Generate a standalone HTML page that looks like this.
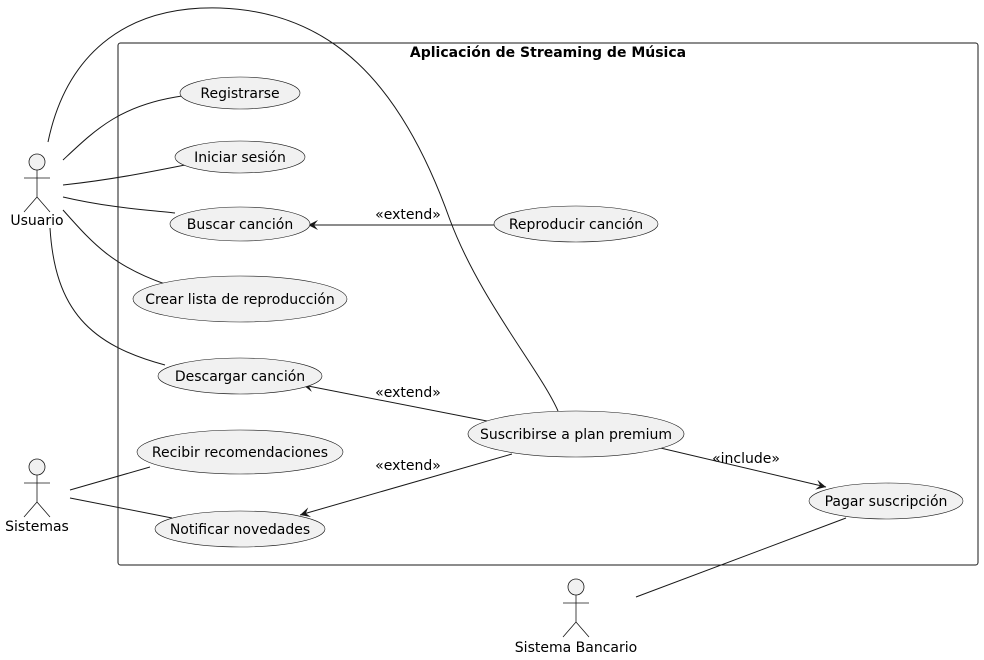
<!DOCTYPE html>
<html><head><meta charset="utf-8"><style>
html,body{margin:0;padding:0;background:#fff;}
svg{display:block;}
text{font-family:"DejaVu Sans","Liberation Sans",sans-serif;font-size:14px;fill:#000;}
</style></head><body>
<svg width="984" height="660" viewBox="0 0 984 660" xmlns="http://www.w3.org/2000/svg">
<defs>
<marker id="ah" markerWidth="12" markerHeight="10" refX="10" refY="5" orient="auto" markerUnits="userSpaceOnUse">
<path d="M0,0 L10,5 L0,10 L4,5 Z" fill="#181818"/>
</marker>
</defs>
<rect x="118" y="43" width="860" height="522" rx="2.5" fill="none" stroke="#181818" stroke-width="1"/>
<text x="548" y="57" text-anchor="middle" font-weight="bold">Aplicación de Streaming de Música</text>

<g fill="none" stroke="#181818" stroke-width="1">
<path d="M48,142 C65,60 120,5 220,8 C330,12 400,80 450,220 C480,300 540,370 558,411"/>
<path d="M63,160 C95,130 120,105 182,96"/>
<path d="M63,185 C110,180 150,172 190,164"/>
<path d="M63,197 C110,208 150,210 175,213"/>
<path d="M63,210 C90,240 110,265 165,284"/>
<path d="M50,228 C55,310 90,345 165,365"/>
<path d="M70,490 L150,467"/>
<path d="M70,498 L172,518"/>
<path d="M636,597 L846,518"/>
<path d="M495,225 L308,225" marker-end="url(#ah)"/>
<path d="M492,422 L303,385" marker-end="url(#ah)"/>
<path d="M512,454 L300,515" marker-end="url(#ah)"/>
<path d="M652,446 L826,487" marker-end="url(#ah)"/>
</g>
<text x="408" y="219" text-anchor="middle" font-size="13">«extend»</text>
<text x="408" y="397" text-anchor="middle" font-size="13">«extend»</text>
<text x="408" y="470" text-anchor="middle" font-size="13">«extend»</text>
<text x="746" y="463" text-anchor="middle" font-size="13">«include»</text>

<g fill="#f1f1f1" stroke="#181818" stroke-width="0.6">
<ellipse cx="240" cy="93" rx="60" ry="16"/>
<ellipse cx="240" cy="157" rx="65" ry="16"/>
<ellipse cx="240" cy="224" rx="70" ry="17"/>
<ellipse cx="240" cy="299" rx="107" ry="23"/>
<ellipse cx="240" cy="376" rx="82" ry="18"/>
<ellipse cx="240" cy="452" rx="103" ry="22"/>
<ellipse cx="240" cy="529" rx="85" ry="18"/>
<ellipse cx="576" cy="224" rx="82" ry="18"/>
<ellipse cx="576" cy="434" rx="108" ry="23"/>
<ellipse cx="886" cy="501" rx="77" ry="18"/>
</g>
<g text-anchor="middle">
<text x="240" y="98">Registrarse</text>
<text x="240" y="162">Iniciar sesión</text>
<text x="240" y="229">Buscar canción</text>
<text x="240" y="304">Crear lista de reproducción</text>
<text x="240" y="381">Descargar canción</text>
<text x="240" y="457">Recibir recomendaciones</text>
<text x="240" y="534">Notificar novedades</text>
<text x="576" y="229">Reproducir canción</text>
<text x="576" y="439">Suscribirse a plan premium</text>
<text x="886" y="506">Pagar suscripción</text>
</g>

<g fill="#f1f1f1" stroke="#181818" stroke-width="0.8">
<g transform="translate(37,154)">
<circle cx="0" cy="8" r="8"/>
<path d="M0,16 V43 M-13,24 H13 M0,43 L-13,58 M0,43 L13,58" fill="none"/>
</g>
<g transform="translate(37,459)">
<circle cx="0" cy="8" r="8"/>
<path d="M0,16 V43 M-13,24 H13 M0,43 L-13,58 M0,43 L13,58" fill="none"/>
</g>
<g transform="translate(576,579)">
<circle cx="0" cy="8" r="8"/>
<path d="M0,16 V43 M-13,24 H13 M0,43 L-13,58 M0,43 L13,58" fill="none"/>
</g>
</g>
<text x="37" y="225" text-anchor="middle">Usuario</text>
<text x="37" y="531" text-anchor="middle">Sistemas</text>
<text x="576" y="652" text-anchor="middle">Sistema Bancario</text>
</svg>
</body></html>
